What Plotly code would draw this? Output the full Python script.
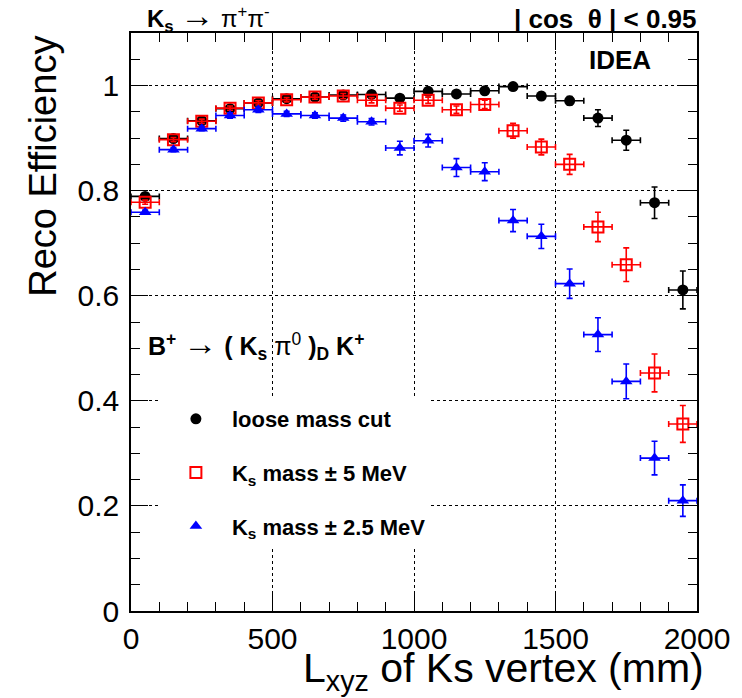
import plotly.graph_objects as go

# ---- data ----
x_centers = [50, 150, 250, 350, 450, 550, 650, 750, 850, 950,
             1050, 1150, 1250, 1350, 1450, 1550, 1650, 1750, 1850, 1950]
x_halfwidth = [50, 50, 50, 50, 50, 50, 50, 50, 50, 50,
               50, 50, 50, 50, 50, 50, 50, 50, 50, 50]

loose = [0.789, 0.899, 0.933, 0.956, 0.967, 0.975, 0.978, 0.982, 0.983, 0.976,
         0.989, 0.984, 0.990, 0.998, 0.980, 0.971, 0.938, 0.896, 0.777, 0.611]
loose_err = [0.004, 0.004, 0.004, 0.004, 0.004, 0.004, 0.004, 0.004, 0.005, 0.005,
             0.005, 0.006, 0.006, 0.006, 0.007, 0.008, 0.016, 0.019, 0.030, 0.036]

mass5 = [0.778, 0.897, 0.932, 0.957, 0.967, 0.973, 0.978, 0.980, 0.972, 0.957,
         0.972, 0.954, 0.964, 0.914, 0.883, 0.850, 0.731, 0.659, 0.453, 0.356]
mass5_err = [0.004, 0.004, 0.004, 0.004, 0.004, 0.004, 0.004, 0.005, 0.005, 0.006,
             0.006, 0.007, 0.008, 0.014, 0.015, 0.019, 0.028, 0.032, 0.036, 0.035]

mass25 = [0.759, 0.878, 0.918, 0.943, 0.954, 0.946, 0.943, 0.938, 0.931, 0.881,
          0.895, 0.844, 0.836, 0.743, 0.713, 0.623, 0.526, 0.437, 0.291, 0.210]
mass25_err = [0.004, 0.004, 0.004, 0.005, 0.005, 0.005, 0.005, 0.006, 0.006, 0.013,
              0.012, 0.017, 0.017, 0.021, 0.023, 0.028, 0.032, 0.033, 0.032, 0.030]

series_names = ["loose mass cut",
                "K<sub>s</sub> mass \u00b1 5 MeV",
                "K<sub>s</sub> mass \u00b1 2.5 MeV"]

y_tickvals = [0, 0.2, 0.4, 0.6, 0.8, 1.0]
y_ticktext = ["0", "0.2", "0.4", "0.6", "0.8", "1"]
x_tickvals = [0, 500, 1000, 1500, 2000]
x_ticktext = ["0", "500", "1000", "1500", "2000"]

FONT = "Liberation Sans, Arial, sans-serif"

# the page's body margin is removed (post_script), so figure == window
W, H = 742, 698
L, R, T, B = 131, 43, 33, 87
PW, PH = W - L - R, H - T - B


def px(xp):
    return (xp - L) / PW


def py(yp):
    return (H - B - yp) / PH


fig = go.Figure()


def add_series(y, err, name, color, symbol, size, lw, group):
    fig.add_trace(go.Scatter(
        x=x_centers, y=y, mode="markers", name=name, legendgroup=group,
        marker=dict(symbol=symbol, size=size, color=color,
                    line=dict(width=lw, color=color)),
        error_x=dict(type="data", array=x_halfwidth, visible=True,
                     color=color, thickness=1.6, width=3),
        error_y=dict(type="data", array=err, visible=True,
                     color=color, thickness=1.6, width=3),
    ))


add_series(loose, loose_err, series_names[0], "#000000", "circle", 11, 0, "a")
add_series(mass5, mass5_err, series_names[1], "#ff0000", "square-open", 11, 2, "b")
add_series(mass25, mass25_err, series_names[2], "#0000ff", "triangle-up", 11, 0, "c")

axis_common = dict(
    showline=True, linecolor="black", linewidth=1.5, mirror="ticks",
    ticks="inside", ticklen=17, tickwidth=1.3, tickcolor="black",
    showgrid=True, gridcolor="black", gridwidth=1, griddash="dot",
    zeroline=False,
    tickfont=dict(family=FONT, size=30, color="black"),
)

fig.update_xaxes(
    range=[0, 2000], tickvals=x_tickvals, ticktext=x_ticktext,
    minor=dict(dtick=100, ticks="inside", ticklen=9, tickcolor="black",
               tickwidth=1.3, showgrid=False),
    **axis_common)
fig.update_yaxes(
    range=[0, 1.1], tickvals=y_tickvals, ticktext=y_ticktext,
    ticklabelstandoff=4,
    minor=dict(dtick=0.05, tick0=0, ticks="inside", ticklen=9, tickcolor="black",
               tickwidth=1.3, showgrid=False),
    **axis_common)

ARROW = '<span style="font-size:34px">\u2192</span>'

annotations = [
    dict(text="<b>K<sub>s</sub></b> " + ARROW + " \u03c0<sup>+</sup>\u03c0<sup>-</sup>",
         x=px(141), y=1.0, xanchor="left", yanchor="bottom", yshift=-5, xshift=4,
         font=dict(size=24)),
    dict(text="<b>| cos  \u03b8 | &lt; 0.95</b>",
         x=1.0, y=1.0, xanchor="right", yanchor="bottom", yshift=-3, xshift=2,
         font=dict(size=26)),
    dict(text="<b>IDEA</b>", x=px(622), y=py(60), xanchor="center",
         yanchor="middle", font=dict(size=26)),
    dict(text="<b>B<sup>+</sup></b> " + ARROW + " <b>( K<sub>s</sub></b> \u03c0<sup>0</sup> "
              "<b>)<sub>D</sub> K<sup>+</sup></b>",
         x=px(146), y=py(344), xanchor="left", yanchor="middle",
         font=dict(size=25)),
    dict(text="Reco Efficiency", textangle=-90, x=px(42), y=py(34),
         xanchor="center", yanchor="top", font=dict(size=38)),
    dict(text="L<sub>xyz</sub> of Ks vertex (mm)", x=1.0, y=py(671),
         xanchor="right", yanchor="middle", xshift=9, font=dict(size=41)),
]
for a in annotations:
    a.setdefault("xref", "paper")
    a.setdefault("yref", "paper")
    a.setdefault("showarrow", False)
    a["font"] = dict(family=FONT, color="black", **a["font"])

fig.update_layout(
    width=W, height=H,
    margin=dict(l=L, r=R, t=T, b=B, pad=0),
    paper_bgcolor="white", plot_bgcolor="white",
    font=dict(family=FONT, color="black"),
    showlegend=True,
    legend=dict(
        x=px(160), y=py(398), xanchor="left", yanchor="top",
        bgcolor="white", borderwidth=0,
        font=dict(family=FONT, size=22, color="black", weight="bold"),
        tracegroupgap=22, itemwidth=62, traceorder="grouped",
    ),
    annotations=annotations,
)

fig.write_html(
    "out.html",
    config={"displayModeBar": False},
    post_script="document.body.style.margin='0';"
                "document.body.style.overflow='hidden';",
)
